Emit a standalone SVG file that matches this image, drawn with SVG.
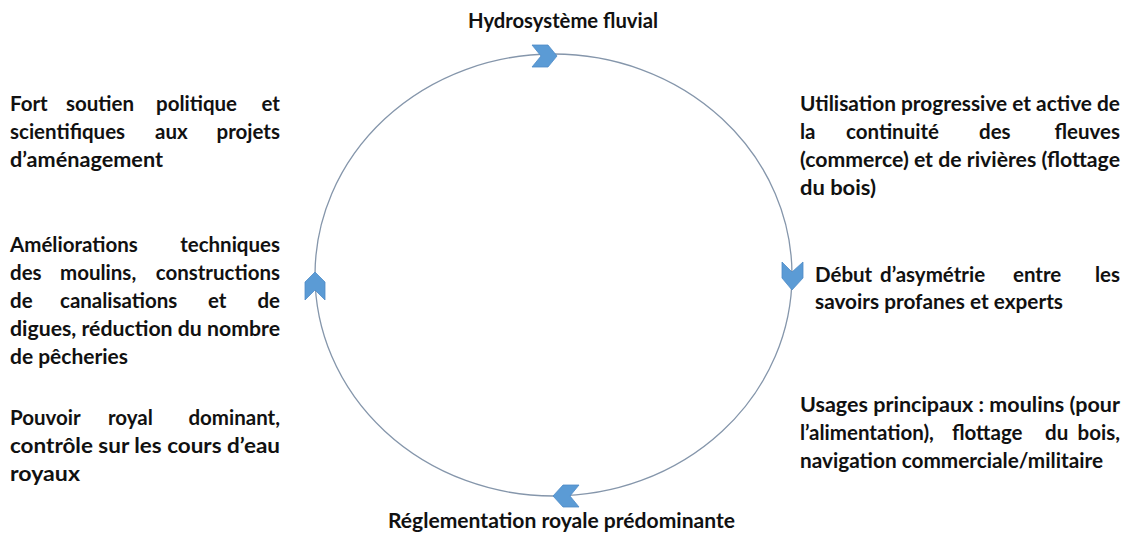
<svg xmlns="http://www.w3.org/2000/svg" width="1128" height="536" viewBox="0 0 1128 536">
<style>
text{font-family:Lato,"Open Sans","Liberation Sans",sans-serif;font-weight:bold;font-size:20.5px;fill:#111}
.e{text-anchor:end}
.cyc{fill:none;stroke:#8596ab;stroke-width:1.3}
.chev{fill:#5b9bd5;stroke:#4f8cc6;stroke-width:0.8}
</style>
<rect width="1128" height="536" fill="#ffffff"/>
<g id="connectors">
<ellipse class="cyc" cx="553.5" cy="275" rx="238.5" ry="221"/>
<polygon class="chev" points="532,45 548,45 557,56 548,67 532,67 541,56"/>
<polygon class="chev" points="782,262 792,272 803,262 803,278 792,290 782,278"/>
<polygon class="chev" points="579,485 563,485 553,496 563,507 579,507 570,496"/>
<polygon class="chev" points="315,272 325,282 325,300 315,290 305,300 305,282"/>
</g>
<g id="node-top">
<text x="468" y="28" textLength="190" lengthAdjust="spacingAndGlyphs">Hydrosystème fluvial</text>
</g>
<g id="node-bottom">
<text x="388" y="528" textLength="347" lengthAdjust="spacingAndGlyphs">Réglementation royale prédominante</text>
</g>
<g id="node-right-1">
<text x="800" y="111" textLength="320" lengthAdjust="spacingAndGlyphs">Utilisation progressive et active de</text>
<text y="139"><tspan x="800">la</tspan><tspan x="846">continuité</tspan><tspan x="979">des</tspan><tspan x="1120" class="e">fleuves</tspan></text>
<text x="800" y="167" textLength="320" lengthAdjust="spacingAndGlyphs">(commerce) et de rivières (flottage</text>
<text x="800" y="195" textLength="76" lengthAdjust="spacingAndGlyphs">du bois)</text>
</g>
<g id="node-right-2">
<text y="282"><tspan x="815">Début</tspan><tspan x="880">d’asymétrie</tspan><tspan x="1013">entre</tspan><tspan x="1120" class="e">les</tspan></text>
<text x="815" y="309" textLength="248" lengthAdjust="spacingAndGlyphs">savoirs profanes et experts</text>
</g>
<g id="node-right-3">
<text x="800" y="412" textLength="320" lengthAdjust="spacingAndGlyphs">Usages principaux : moulins (pour</text>
<text y="440"><tspan x="800">l’alimentation),</tspan><tspan x="952">flottage</tspan><tspan x="1045">du</tspan><tspan x="1120" class="e">bois,</tspan></text>
<text x="800" y="468" textLength="303" lengthAdjust="spacingAndGlyphs">navigation commerciale/militaire</text>
</g>
<g id="node-left-1">
<text y="111"><tspan x="10">Fort</tspan><tspan x="66">soutien</tspan><tspan x="156">politique</tspan><tspan x="280" class="e">et</tspan></text>
<text y="139"><tspan x="10">scientifiques</tspan><tspan x="155">aux</tspan><tspan x="280" class="e">projets</tspan></text>
<text x="10" y="167" textLength="153" lengthAdjust="spacingAndGlyphs">d’aménagement</text>
</g>
<g id="node-left-2">
<text y="252"><tspan x="10">Améliorations</tspan><tspan x="280" class="e">techniques</tspan></text>
<text y="280"><tspan x="10">des</tspan><tspan x="60">moulins,</tspan><tspan x="280" class="e">constructions</tspan></text>
<text y="308"><tspan x="10">de</tspan><tspan x="60">canalisations</tspan><tspan x="208">et</tspan><tspan x="280" class="e">de</tspan></text>
<text x="10" y="336" textLength="270" lengthAdjust="spacingAndGlyphs">digues, réduction du nombre</text>
<text x="10" y="364" textLength="118" lengthAdjust="spacingAndGlyphs">de pêcheries</text>
</g>
<g id="node-left-3">
<text y="425"><tspan x="10">Pouvoir</tspan><tspan x="108">royal</tspan><tspan x="280" class="e">dominant,</tspan></text>
<text x="10" y="453" textLength="270" lengthAdjust="spacingAndGlyphs">contrôle sur les cours d’eau</text>
<text x="10" y="481" textLength="70" lengthAdjust="spacingAndGlyphs">royaux</text>
</g>
</svg>
